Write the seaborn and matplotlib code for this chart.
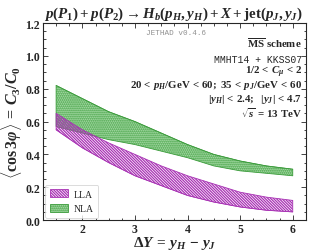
import numpy as np
import pandas as pd
import seaborn as sns
import matplotlib.pyplot as plt
from matplotlib.patches import Patch
from matplotlib.ticker import MultipleLocator

# rapidity interval grid
dy = [1.5, 2.0, 2.5, 3.0, 3.5, 4.0, 4.5, 5.0, 5.5, 6.0]

# LLA band (scale variation)
lla_lo = [0.55, 0.44, 0.35, 0.27, 0.21, 0.15, 0.11, 0.08, 0.06, 0.05]
lla_hi = [0.65, 0.55, 0.47, 0.40, 0.33, 0.27, 0.22, 0.17, 0.14, 0.12]

# NLA band
nla_lo = [0.57, 0.53, 0.49, 0.46, 0.42, 0.38, 0.33, 0.30, 0.285, 0.27]
nla_hi = [0.82, 0.74, 0.66, 0.60, 0.53, 0.46, 0.40, 0.36, 0.33, 0.31]

sns.set_style('ticks')
plt.rcParams['font.family'] = ['Liberation Serif', 'DejaVu Serif']
plt.rcParams['font.weight'] = 'bold'
plt.rcParams['mathtext.fontset'] = 'custom'
plt.rcParams['mathtext.rm'] = 'Liberation Serif:bold'
plt.rcParams['mathtext.it'] = 'Liberation Serif:italic:bold'
plt.rcParams['mathtext.bf'] = 'Liberation Serif:bold'
plt.rcParams['hatch.linewidth'] = 0.9

df = pd.DataFrame({'dy': dy, 'lla_lo': lla_lo, 'lla_hi': lla_hi,
                   'nla_lo': nla_lo, 'nla_hi': nla_hi})

magenta = '#a832b4'
green_edge = '#3c9c3c'
green_face = '#a8dca8'
lla_hatch = '\\' * 12
nla_hatch = '.' * 8

fig = plt.figure(figsize=(3.16, 2.53), dpi=100)
ax = fig.add_axes([0.136, 0.126, 0.832, 0.779])

ax.fill_between(df['dy'], df['nla_lo'], df['nla_hi'], facecolor=green_face,
                edgecolor=green_edge, hatch=nla_hatch, linewidth=0.6, zorder=2)
ax.fill_between(df['dy'], df['lla_lo'], df['lla_hi'], facecolor='none',
                edgecolor=magenta, hatch=lla_hatch, linewidth=0.6, zorder=3)
sns.lineplot(data=df, x='dy', y='nla_hi', color=green_edge, lw=0.5, ax=ax, zorder=4)
sns.lineplot(data=df, x='dy', y='lla_lo', color=magenta, lw=0.5, ax=ax, zorder=4)

ax.set_xlim(1.25, 6.25)
ax.set_ylim(0, 1.2)
ax.xaxis.set_major_locator(MultipleLocator(1))
ax.xaxis.set_minor_locator(MultipleLocator(0.25))
ax.yaxis.set_major_locator(MultipleLocator(0.2))
ax.yaxis.set_minor_locator(MultipleLocator(0.05))
ax.tick_params(which='both', direction='in', top=True, right=True, labelsize=8.5, width=0.6)
ax.tick_params(which='major', length=3.5, pad=2)
ax.tick_params(which='minor', length=1.8)
ax.set_yticks([0.0, 0.2, 0.4, 0.6, 0.8, 1.0, 1.2])
ax.set_yticklabels(['0.0', '0.2', '0.4', '0.6', '0.8', '1.0', '1.2'])
ax.set_xticks([2, 3, 4, 5, 6])
for sp in ax.spines.values():
    sp.set_linewidth(0.8)

ax.set_xlabel(r'$\Delta Y \,=\, y_H \,-\, y_J$', fontsize=11, labelpad=-1)
ax.set_ylabel(r'$\langle \cos 3\varphi \rangle \,=\, C_3/C_0$', fontsize=11.5, labelpad=1)
fig.text(0.55, 0.945, r'$p(P_1) + p(P_2) \to H_b(p_H, y_H) + X + \mathrm{jet}(p_J, y_J)$',
         ha='center', va='center', fontsize=10.8)

ax.text(0.506, 0.954, 'JETHAD v0.4.6', transform=ax.transAxes, ha='center', va='center',
        fontsize=5.5, color='#909090', family='Liberation Mono', fontweight='normal')
rx = 0.985
lines = [
    (r'$\overline{\mathrm{MS}}$ scheme', 0.904, None),
    ('MMHT14 + KKSS07', 0.817, 'Liberation Mono'),
    (r'$1/2 \,<\, C_\mu \,<\, 2$', 0.753, None),
    (r'$20 \,<\, p_H/\mathrm{GeV} \,<\, 60;\ 35 \,<\, p_J/\mathrm{GeV} \,<\, 60$', 0.687, None),
    (r'$|y_H| \,<\, 2.4;\ \ |y_J| \,<\, 4.7$', 0.619, None),
    (r'$\sqrt{s} \,=\, 13\ \mathrm{TeV}$', 0.55, None),
]
for txt, yy, fam in lines:
    if fam:
        ax.text(rx, yy, txt, transform=ax.transAxes, ha='right', va='center',
                fontsize=7, family=fam, fontweight='normal')
    else:
        ax.text(rx, yy, txt, transform=ax.transAxes, ha='right', va='center', fontsize=7.8)

handles = [Patch(facecolor='none', edgecolor=magenta, hatch=lla_hatch, linewidth=0.6, label='LLA'),
           Patch(facecolor=green_face, edgecolor=green_edge, hatch=nla_hatch, linewidth=0.6, label='NLA')]
leg = ax.legend(handles=handles, loc='lower left', fontsize=7, frameon=True,
                handlelength=1.9, handleheight=0.9, handletextpad=0.6, borderpad=0.45,
                labelspacing=0.55, borderaxespad=0.25)
for t in leg.get_texts():
    t.set_fontweight('normal')
leg.get_frame().set_edgecolor('#cccccc')
leg.get_frame().set_linewidth(0.6)

fig.savefig('out.png', dpi=100)
